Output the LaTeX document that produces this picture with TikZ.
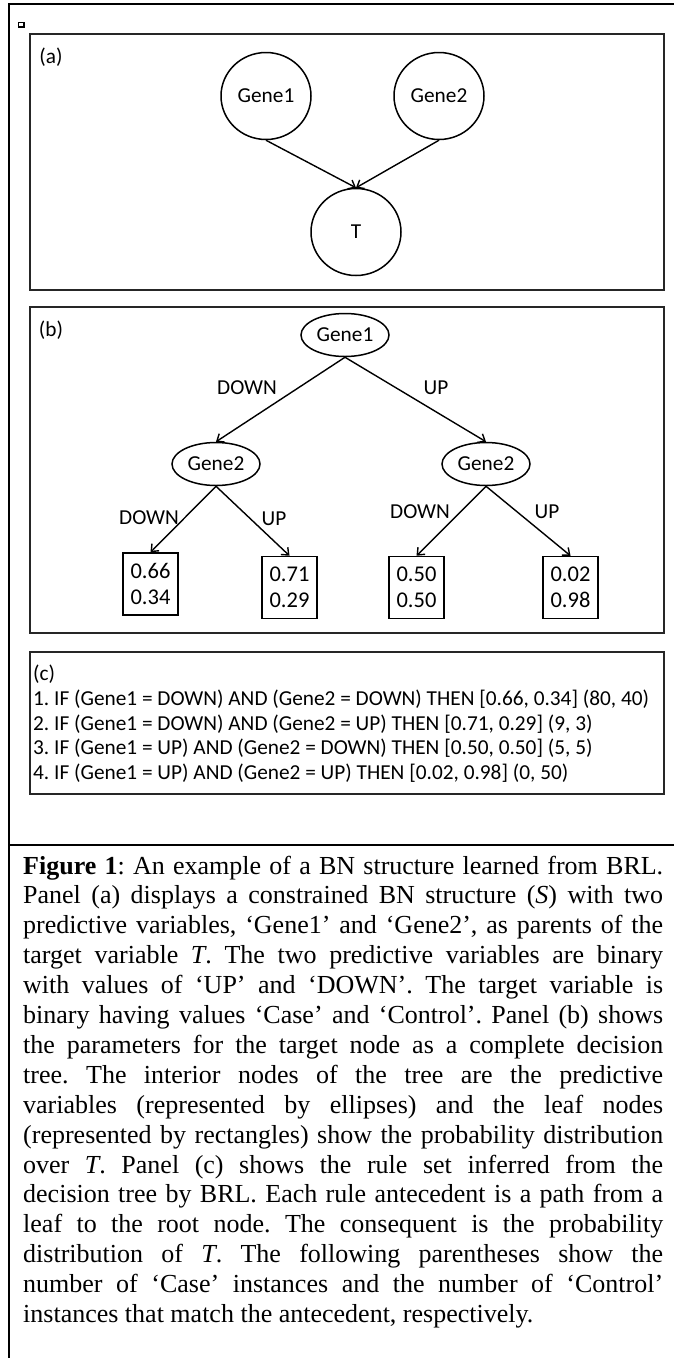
\documentclass[tikz,border=0pt]{standalone}
\usepackage{fontspec}
\setmainfont{Liberation Serif}
\newfontfamily\diagfont{Carlito}
\usetikzlibrary{arrows.meta,shapes.geometric}
\frenchspacing

% caption lines: justified to a fixed width, last line natural
\newlength\capw
\setlength\capw{640pt}
\newcommand\capline[1]{\hbox to \capw{#1}}

\begin{document}
\begin{tikzpicture}[x=1pt,y=-1pt,
  frame/.style={line width=2pt},
  panel/.style={draw=black!85, line width=1.8pt},
  dfont/.style={font=\diagfont\fontsize{21.3}{25}\selectfont},
  bnnode/.style={ellipse, draw, line width=1.5pt, minimum width=90pt,
    minimum height=87pt, inner sep=0pt, dfont},
  treenode/.style={ellipse, draw, line width=1.5pt, minimum width=88pt,
    minimum height=43pt, inner sep=0pt, dfont},
  leaf/.style={rectangle, draw, line width=1.5pt, minimum width=55pt,
    minimum height=62pt, inner sep=0pt, align=center,
    font=\diagfont\fontsize{22.5}{26}\selectfont},
  arr/.style={-{Straight Barb[length=6pt,width=10pt]}, line width=1.4pt},
  lbl/.style={dfont, inner sep=0pt},
  rule/.style={font=\diagfont\fontsize{21.3}{25}\selectfont, inner sep=0pt,
    anchor=base west},
]
\useasboundingbox (0,0) rectangle (674,1358);

% outer frame and divider above the caption
\draw[frame] (674,4) -- (8.5,4) -- (8.5,1358);
\draw[frame] (8.5,845) -- (674,845);
\draw[line width=1.3pt] (18.5,22.5) rectangle (24,27);

% panel frames
\draw[panel] (30,34) rectangle (664,290);
\draw[panel] (30,307) rectangle (664,633);
\draw[panel] (30,652) rectangle (664,794);

% (a) Bayesian network structure
\node[lbl] (la) at (51,57) {(a)};
\node[bnnode] (g1) at (266,96) {Gene1};
\node[bnnode] (g2) at (439,96) {Gene2};
\node[bnnode] (t) at (356,232) {T};
\draw[arr] (g1.south) -- (t.north);
\draw[arr] (g2.south) -- (t.north);

% (b) decision tree
\node[lbl] (lb) at (51,330) {(b)};
\node[treenode] (root) at (345,335) {Gene1};
\node[treenode] (dl) at (216,464) {Gene2};
\node[treenode] (dr) at (486,464) {Gene2};
\node[leaf] (p1) at (150.5,584) {0.66\\0.34};
\node[leaf] (p2) at (289.5,587.5) {0.71\\0.29};
\node[leaf] (p3) at (416.5,587.5) {0.50\\0.50};
\node[leaf] (p4) at (570.5,587.5) {0.02\\0.98};
\draw[arr] (root.south) -- (dl.north);
\draw[arr] (root.south) -- (dr.north);
\draw[arr] (dl.south) -- (p1.north);
\draw[arr] (dl.south) -- (p2.north);
\draw[arr] (dr.south) -- (p3.north);
\draw[arr] (dr.south) -- (p4.north);
\node[lbl] (e1) at (247,388) {DOWN};
\node[lbl] (e2) at (436,388) {UP};
\node[lbl] (e3) at (149,518) {DOWN};
\node[lbl] (e4) at (274,519) {UP};
\node[lbl] (e5) at (420,512) {DOWN};
\node[lbl] (e6) at (547,512) {UP};

% (c) rule set
\node[rule] (lc) at (33,680) {(c)};
\node[rule] (r1) at (33,705) {1. IF (Gene1 = DOWN) AND (Gene2 = DOWN) THEN [0.66, 0.34] (80, 40)};
\node[rule] (r2) at (33,730) {2. IF (Gene1 = DOWN) AND (Gene2 = UP) THEN [0.71, 0.29] (9, 3)};
\node[rule] (r3) at (33,754) {3. IF (Gene1 = UP) AND (Gene2 = DOWN) THEN [0.50, 0.50] (5, 5)};
\node[rule] (r4) at (33,779) {4. IF (Gene1 = UP) AND (Gene2 = UP) THEN [0.02, 0.98] (0, 50)};

% caption
\node[anchor=base west, inner sep=0pt] (cap) at (23,874) {\parbox[t]{\capw}{%
\fontsize{26}{29.9}\selectfont
\capline{\textbf{Figure 1}: An example of a BN structure learned from BRL.}
\capline{Panel (a) displays a constrained BN structure (\textit{S}) with two}
\capline{predictive variables, ‘Gene1’ and ‘Gene2’, as parents of the}
\capline{target variable \textit{T}. The two predictive variables are binary}
\capline{with values of ‘UP’ and ‘DOWN’. The target variable is}
\capline{binary having values ‘Case’ and ‘Control’. Panel (b) shows}
\capline{the parameters for the target node as a complete decision}
\capline{tree. The interior nodes of the tree are the predictive}
\capline{variables (represented by ellipses) and the leaf nodes}
\capline{(represented by rectangles) show the probability distribution}
\capline{over \textit{T}. Panel (c) shows the rule set inferred from the}
\capline{decision tree by BRL. Each rule antecedent is a path from a}
\capline{leaf to the root node. The consequent is the probability}
\capline{distribution of \textit{T}. The following parentheses show the}
\capline{number of ‘Case’ instances and the number of ‘Control’}
\hbox{instances that match the antecedent, respectively.}}};
\end{tikzpicture}
\end{document}
